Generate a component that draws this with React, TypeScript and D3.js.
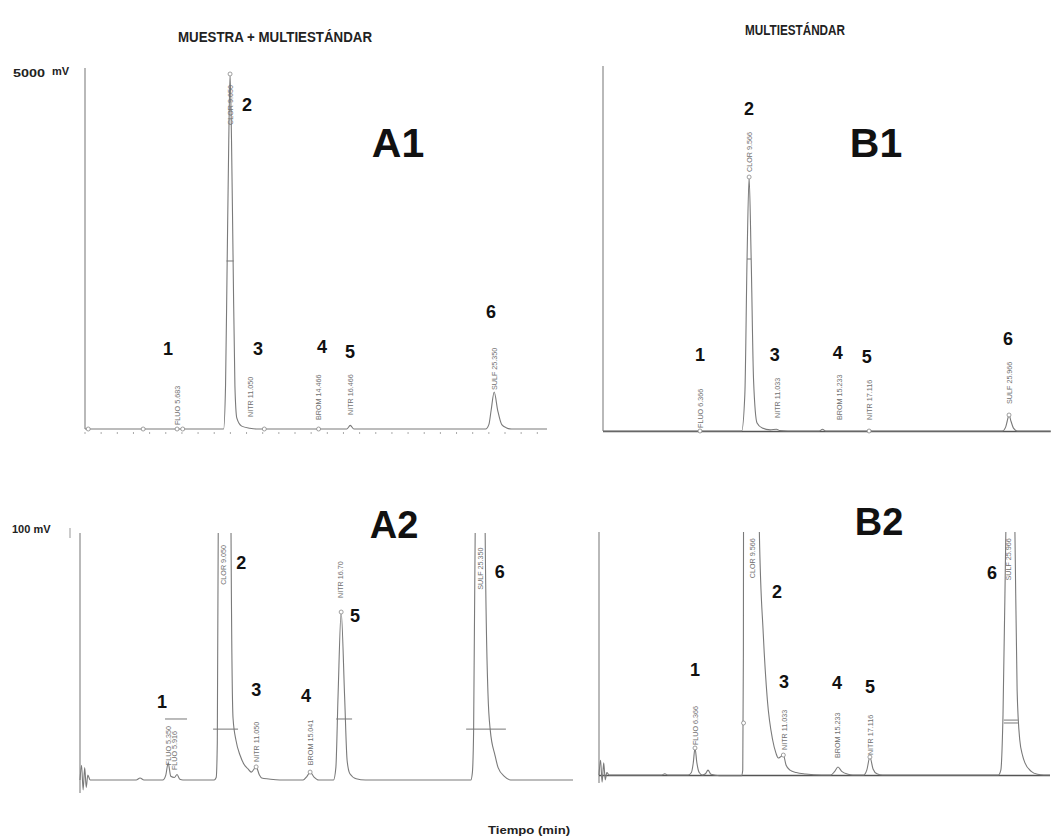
import React from 'react';
import * as d3 from 'd3';

type Pt = [number, number];
type Tag = [number, number, string];
type Bar = [number, number, number];

// ---- Data: time (min), signal (mV) ----
const A1_TRACE: Pt[] = [
  [0, 0], [3.5, 0], [5.6, 0], [5.7, 8], [5.8, 0], [8.58, 0], [8.7, 600], [8.8, 2300], [8.9, 4000], [8.98, 4917],
  [9.07, 4000], [9.17, 2300], [9.28, 600], [9.4, 150], [9.7, 40], [10.2, 10], [10.6, 0], [16.2, 0], [16.42, 50],
  [16.65, 0], [24.8, 0], [25.0, 60], [25.14, 256], [25.33, 512], [25.55, 256], [25.8, 60], [26.1, 15],
  [26.4, 0], [28.6, 0],
];
const A1_TAGS: Tag[] = [
  [5.7, 55, 'FLUO 5.683'], [8.98, 4210, 'CLOR 9.050'], [10.22, 166, 'NITR 11.050'],
  [14.46, 125, 'BROM 14.466'], [16.41, 194, 'NITR 16.466'], [25.33, 540, 'SULF 25.350'],
];
const A1_NUMBERS: Tag[] = [
  [5.14, 1108, '1'], [10.03, 4488, '2'], [10.71, 1108, '3'], [14.67, 1136, '4'], [16.41, 1066, '5'], [25.14, 1620, '6'],
];
const A1_BARS: Bar[] = [[8.76, 9.2, 2327]];
const A1_MARKERS: Pt[] = [[0.2, 0], [3.6, 0], [5.7, 0], [6.05, 0], [11.1, 0], [14.46, 0], [8.98, 4917]];

const B1_TRACE: Pt[] = [
  [0.35, 0], [6.3, 0], [6.47, 10], [6.6, 0], [9.1, 0], [9.3, 500], [9.44, 2356], [9.57, 3479], [9.7, 2356],
  [9.85, 700], [10.07, 110], [10.4, 40], [10.9, 15], [11.3, 25], [11.5, 5], [12, 0], [14.0, 0], [14.2, 25],
  [14.4, 0], [17.0, 0], [17.14, 12], [17.3, 0], [25.55, 0], [25.75, 50], [25.85, 130], [25.97, 219],
  [26.1, 130], [26.25, 40], [26.5, 0], [28.6, 0],
];
const B1_TAGS: Tag[] = [
  [6.47, 41, 'FLUO 6.366'], [9.6, 3548, 'CLOR 9.566'], [11.33, 178, 'NITR 11.033'],
  [15.24, 150, 'BROM 15.233'], [17.14, 150, 'NITR 17.116'], [26.0, 370, 'SULF 25.966'],
];
const B1_NUMBERS: Tag[] = [
  [6.47, 1041, '1'], [9.56, 4411, '2'], [11.19, 1041, '3'], [15.17, 1069, '4'], [16.99, 1014, '5'], [25.9, 1260, '6'],
];
const B1_BARS: Bar[] = [[9.44, 9.69, 2356]];
const B1_MARKERS: Pt[] = [[6.47, 0], [17.14, 0], [9.57, 3479], [25.97, 219]];

const A2_TRACE: Pt[] = [
  [-0.3, 0], [-0.2, 6], [-0.1, -4], [0.0, 5], [0.1, -3], [0.2, 2], [0.35, 0], [3.3, 0], [3.55, 0.8], [3.8, 0],
  [5.0, 0], [5.2, 2], [5.35, 6.9], [5.52, 1.5], [5.75, 1], [5.92, 2.2], [6.1, 0.3], [6.3, 0], [8.3, 0],
  [8.43, 1], [8.5, 15], [8.56, 100], [8.7, 1500], [8.98, 4900], [9.25, 1500], [9.38, 100], [9.51, 25],
  [9.7, 16], [9.96, 10], [10.2, 6.5], [10.47, 4.5], [10.68, 3.2], [10.99, 5.3], [11.2, 2], [11.35, 0.8],
  [11.8, 0.4], [12.5, 0], [14.0, 0], [14.25, 1.5], [14.45, 3.2], [14.7, 1.2], [15.0, 0], [15.95, 0],
  [16.1, 5], [16.24, 34], [16.44, 68], [16.66, 34], [16.82, 8], [17.0, 2.5], [17.4, 0.5], [18, 0],
  [24.75, 0], [24.85, 3], [24.93, 20], [25.03, 100], [25.2, 400], [25.35, 512], [25.5, 400], [25.67, 100],
  [25.85, 35], [26.0, 20], [26.3, 10], [26.5, 5], [26.9, 1.5], [27.3, 0], [31.3, 0],
];
const A2_TAGS: Tag[] = [
  [5.36, 6, 'FLUO 5.350'], [5.74, 4, 'FLUO 5.916'], [8.88, 79, 'CLOR 9.050'], [10.99, 7.3, 'NITR 11.050'],
  [14.45, 6, 'BROM 15.041'], [16.38, 73.7, 'NITR 16.70'], [25.35, 77, 'SULF 25.350'],
];
const A2_NUMBERS: Tag[] = [
  [4.96, 31.6, '1'], [10.03, 87.9, '2'], [10.99, 36.4, '3'], [14.19, 34.0, '4'], [17.33, 66.4, '5'], [26.6, 84.2, '6'],
];
const A2_BARS: Bar[] = [[5.15, 6.56, 24.7], [8.23, 9.83, 20.6], [16.12, 17.14, 24.7], [24.45, 27.0, 20.6]];
const A2_MARKERS: Pt[] = [[16.44, 68], [10.99, 5.3], [14.45, 3.2]];

const B2_TRACE: Pt[] = [
  [-0.2, 0], [-0.1, 6], [0.0, -3], [0.1, 5], [0.2, -2], [0.3, 1], [0.45, 0], [3.8, 0], [4.0, 0.5], [4.2, 0],
  [5.5, 0], [5.7, 1], [5.82, 5], [5.93, 11.1], [6.05, 5], [6.2, 1], [6.4, 0], [6.6, 0.5], [6.76, 2],
  [6.95, 0.3], [7.5, -0.3], [8.9, -0.3], [8.98, 2], [9.02, 50], [9.06, 300], [9.3, 1500], [9.566, 3479],
  [9.85, 1000], [10.04, 100], [10.29, 58], [10.55, 31], [10.89, 14.4], [11.1, 9], [11.25, 7], [11.4, 7.5],
  [11.57, 8.2], [11.75, 4], [12.0, 2], [12.4, 1], [13, 0.4], [14, 0], [14.6, 0], [14.85, 1.5], [15.06, 3.3],
  [15.3, 1.5], [15.7, 0.3], [16, 0], [16.7, 0], [16.9, 2], [17.1, 7.4], [17.3, 2.5], [17.55, 0.5], [17.9, 0],
  [25.3, 0], [25.46, 2], [25.6, 25], [25.78, 100], [26.07, 219], [26.36, 100], [26.5, 35], [26.67, 14.4],
  [26.85, 8], [27.0, 5], [27.4, 1.5], [27.8, 0.3], [28.2, 0], [28.6, 0],
];
const B2_TAGS: Tag[] = [
  [5.93, 12.3, 'FLUO 6.366'], [9.57, 81, 'CLOR 9.566'], [11.61, 10.3, 'NITR 11.033'],
  [15.0, 7, 'BROM 15.233'], [17.1, 8.2, 'NITR 17.116'], [25.97, 80, 'SULF 25.966'],
];
const B2_NUMBERS: Tag[] = [
  [5.93, 43.2, '1'], [11.17, 75.3, '2'], [11.61, 38.3, '3'], [15.0, 37.9, '4'], [17.1, 36.2, '5'], [24.89, 83.1, '6'],
];
const B2_BARS: Bar[] = [[25.65, 26.55, 21.4], [25.65, 26.55, 22.6]];
const B2_MARKERS: Pt[] = [[5.93, 11.1], [11.57, 8.2], [17.1, 7.4], [9.03, 21.4]];

// ---- Layout ----
type Cfg = {
  id: string; trace: Pt[]; tags: Tag[]; nums: Tag[]; bars: Bar[]; markers: Pt[];
  xDom: [number, number]; xRange: [number, number]; yDom: [number, number]; yRange: [number, number];
  axisTop: number; axisBottom: number; clipTop: number; darkBase: boolean; ticks: boolean;
  title: string; titleX: number; titleY: number; titleSize: number;
};

const PANELS: Cfg[] = [
  { id: 'A1', trace: A1_TRACE, tags: A1_TAGS, nums: A1_NUMBERS, bars: A1_BARS, markers: A1_MARKERS,
    xDom: [0, 28.6], xRange: [85, 547], yDom: [0, 5000], yRange: [429, 68], axisTop: 68, axisBottom: 429,
    clipTop: 60, darkBase: false, ticks: true, title: 'A1', titleX: 398, titleY: 157, titleSize: 41 },
  { id: 'B1', trace: B1_TRACE, tags: B1_TAGS, nums: B1_NUMBERS, bars: B1_BARS, markers: B1_MARKERS,
    xDom: [0.35, 28.6], xRange: [603, 1050.7], yDom: [0, 5000], yRange: [431, 66], axisTop: 66, axisBottom: 431,
    clipTop: 60, darkBase: true, ticks: false, title: 'B1', titleX: 876, titleY: 157, titleSize: 41 },
  { id: 'A2', trace: A2_TRACE, tags: A2_TAGS, nums: A2_NUMBERS, bars: A2_BARS, markers: A2_MARKERS,
    xDom: [-0.3, 31.3], xRange: [80, 573], yDom: [0, 100], yRange: [780, 533], axisTop: 533, axisBottom: 793,
    clipTop: 533, darkBase: false, ticks: false, title: 'A2', titleX: 394, titleY: 538, titleSize: 38 },
  { id: 'B2', trace: B2_TRACE, tags: B2_TAGS, nums: B2_NUMBERS, bars: B2_BARS, markers: B2_MARKERS,
    xDom: [-0.2, 28.6], xRange: [599, 1050], yDom: [0, 100], yRange: [775, 532], axisTop: 532, axisBottom: 783,
    clipTop: 532, darkBase: true, ticks: false, title: 'B2', titleX: 879, titleY: 535, titleSize: 38 },
];

const FONT = "'Liberation Sans', Arial, Helvetica, sans-serif";

function Panel({ c }: { c: Cfg }) {
  const x = d3.scaleLinear().domain(c.xDom).range(c.xRange);
  const y = d3.scaleLinear().domain(c.yDom).range(c.yRange);
  const line = d3.line<Pt>().x(d => x(d[0])).y(d => y(d[1])).curve(d3.curveMonotoneX);
  const x0 = c.xRange[0];
  const clipId = `clip-${c.id}`;
  const tickVals = c.ticks ? d3.range(Math.ceil(c.xDom[0]), Math.floor(c.xDom[1]) + 1, 1) : [];
  return (
    <g>
      <defs>
        <clipPath id={clipId}>
          <rect x={x0 - 10} y={c.clipTop} width={c.xRange[1] - x0 + 20} height={c.axisBottom - c.clipTop + 30} />
        </clipPath>
      </defs>
      <line x1={x0} x2={x0} y1={c.axisTop} y2={c.axisBottom} stroke="#8a8a8a" strokeWidth={1.2} />
      {c.darkBase && (
        <line x1={x0} x2={c.xRange[1]} y1={y(0) + 0.5} y2={y(0) + 0.5} stroke="#555" strokeWidth={1.5} />
      )}
      {tickVals.map(t => (
        <line key={t} x1={x(t)} x2={x(t)} y1={y(0) + 3} y2={y(0) + 5} stroke="#aaa" strokeWidth={1} />
      ))}
      <path d={line(c.trace) || ''} clipPath={`url(#${clipId})`} fill="none" stroke="#7a7a7a" strokeWidth={1.1} />
      {c.bars.map((b, i) => (
        <line key={i} x1={x(b[0])} x2={x(b[1])} y1={y(b[2])} y2={y(b[2])} stroke="#777" strokeWidth={1} />
      ))}
      {c.markers.map((m, i) => (
        <circle key={i} cx={x(m[0])} cy={y(m[1])} r={2} fill="#fff" stroke="#888" strokeWidth={0.8} />
      ))}
      {c.tags.map((t, i) => (
        <text key={i} transform={`translate(${x(t[0]) + 2.6},${y(t[1])}) rotate(-90)`}
          fontSize={7.2} fill="#6f6f6f" fontFamily={FONT}>{t[2]}</text>
      ))}
      {c.nums.map((n, i) => (
        <text key={i} x={x(n[0])} y={y(n[1])} textAnchor="middle" dominantBaseline="central"
          fontSize={18} fontWeight="bold" fill="#111" fontFamily={FONT}>{n[2]}</text>
      ))}
      <text x={c.titleX} y={c.titleY} textAnchor="middle" fontSize={c.titleSize} fontWeight="bold"
        fill="#111" fontFamily={FONT}>{c.title}</text>
    </g>
  );
}

export default function App() {
  return (
    <svg width={1057} height={837} style={{ position: 'absolute', left: 0, top: 0, background: '#fff' }}
      xmlns="http://www.w3.org/2000/svg">
      <rect width={1057} height={837} fill="#fff" />
      <text x={275} y={42} textAnchor="middle" fontSize={14} fontWeight="bold" fill="#222" fontFamily={FONT}
        textLength={194} lengthAdjust="spacingAndGlyphs">MUESTRA + MULTIESTÁNDAR</text>
      <text x={795} y={35} textAnchor="middle" fontSize={14} fontWeight="bold" fill="#222" fontFamily={FONT}
        textLength={100} lengthAdjust="spacingAndGlyphs">MULTIESTÁNDAR</text>
      <text x={13} y={77} fontSize={10} fontWeight="bold" fill="#222" fontFamily={FONT}
        textLength={32} lengthAdjust="spacingAndGlyphs">5000</text>
      <text x={52} y={75} fontSize={11} fontWeight="bold" fill="#222" fontFamily={FONT}>mV</text>
      <text x={12} y={533} fontSize={11} fontWeight="bold" fill="#222" fontFamily={FONT}>100 mV</text>
      <line x1={70} x2={70} y1={528} y2={538} stroke="#999" strokeWidth={1} />
      {PANELS.map(p => <Panel key={p.id} c={p} />)}
      <text x={529} y={834} textAnchor="middle" fontSize={10} fontWeight="bold" fill="#222" fontFamily={FONT}
        textLength={82} lengthAdjust="spacingAndGlyphs">Tiempo (min)</text>
    </svg>
  );
}
